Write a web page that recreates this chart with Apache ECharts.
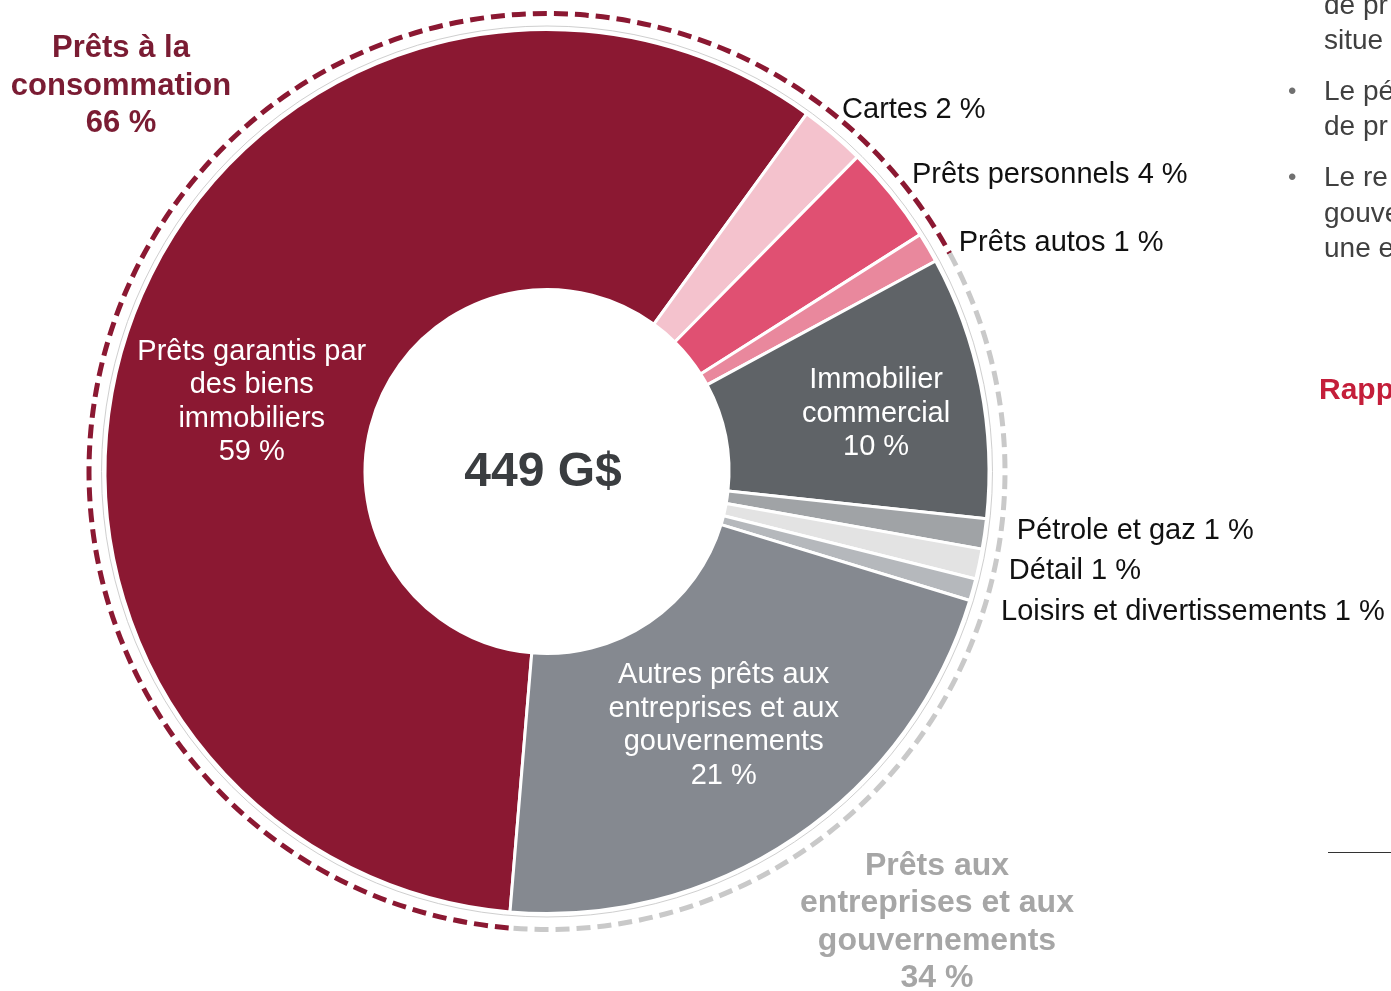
<!DOCTYPE html>
<html>
<head>
<meta charset="utf-8">
<script src="https://cdn.jsdelivr.net/npm/echarts@6/dist/echarts.min.js"></script>
<style>
    html, body { margin: 0; padding: 0; background: #fff; }
    #chart { width: 1391px; height: 991px; }
</style>
</head>
<body>
<div id="chart"></div>
<script>
var totalLabel = "449 G$";
var names = [
    "Prêts garantis par\ndes biens\nimmobiliers", "Cartes", "Prêts personnels", "Prêts autos",
    "Immobilier\ncommercial", "Pétrole et gaz", "Détail", "Loisirs et divertissements",
    "Autres prêts aux\nentreprises et aux\ngouvernements"
];
var shares = [58.6, 2.4, 3.6, 1.1, 9.6, 1.1, 1.1, 0.8, 21.6];
var shownPct = [59, 2, 4, 1, 10, 1, 1, 1, 21];
var groupNames = ["Prêts à la\nconsommation", "Prêts aux\nentreprises et aux\ngouvernements"];
var groupCount = [4, 5];
var sideText = ["de pr", "situe", "Le pé", "de pr", "Le re", "gouve", "une e"];
var sideTitle = "Rapp";

var colors = ["#8B1832", "#F4C2CD", "#E05072", "#E9889D", "#5F6367", "#A0A3A6", "#E3E3E3", "#B5B8BC", "#858990"];
var insideIdx = {0: [0, 40], 4: [20, 3], 8: [0, -7]};
// small hand nudges for the outside labels, as placed on the original slide
var labelNudge = {1: [-14, -8], 2: [-3, -5], 3: [6, 6], 5: [4, -6], 6: [0, -8], 7: [-2, -9]};

var CX = 547, CY = 471.5, R0 = 182, R1 = 442, START = 265.2;
var FONT = "Liberation Sans";

var data = names.map(function (n, i) {
    var item = {name: n, value: shares[i], pct: shownPct[i], itemStyle: {color: colors[i]}};
    if (insideIdx[i]) {
        item.label = {position: "inside", color: "#fff", lineHeight: 33.5, offset: insideIdx[i]};
    }
    return item;
});

var total = shares.reduce(function (a, b) { return a + b; }, 0);
var consShare = 0, consPct = 0, bizPct = 0;
shares.forEach(function (v, i) {
    if (i < groupCount[0]) { consShare += v; consPct += shownPct[i]; } else { bizPct += shownPct[i]; }
});
var a0 = -START * Math.PI / 180;
var aSplit = a0 + consShare / total * Math.PI * 2;

var graphics = [
    {type: "circle", silent: true, shape: {cx: CX, cy: CY, r: R1 + 3.5}, style: {fill: null, stroke: "#cfcfcf", lineWidth: 1}},
    {type: "arc", silent: true, shape: {cx: CX, cy: CY, r: 458, startAngle: a0, endAngle: aSplit, clockwise: true},
        style: {fill: null, stroke: "#8B1832", lineWidth: 5, lineDash: [14, 7]}},
    {type: "arc", silent: true, shape: {cx: CX, cy: CY, r: 458, startAngle: aSplit, endAngle: a0 + Math.PI * 2, clockwise: true},
        style: {fill: null, stroke: "#C9C9C9", lineWidth: 5, lineDash: [14, 7]}},
    {type: "text", silent: true, x: CX - 4, y: CY + 1, style: {text: totalLabel, fill: "#3A3D40",
        font: "bold 48px " + FONT, align: "center", verticalAlign: "middle"}},
    {type: "text", silent: true, x: 121, y: 86, style: {text: groupNames[0] + "\n" + consPct + " %", fill: "#7A1C33",
        font: "bold 31px " + FONT, lineHeight: 37.5, align: "center", verticalAlign: "middle"}},
    {type: "text", silent: true, x: 937, y: 922, style: {text: groupNames[1] + "\n" + bizPct + " %", fill: "#A6A6A6",
        font: "bold 32px " + FONT, lineHeight: 37.5, align: "center", verticalAlign: "middle"}}
];

// cut-off slide text on the right edge
var sideY = [6, 41, 92, 127, 178, 214, 249];
sideText.forEach(function (t, i) {
    graphics.push({type: "text", silent: true, x: 1324, y: sideY[i], style: {text: t, fill: "#404040",
        font: "28px " + FONT, verticalAlign: "middle"}});
});
[92, 178].forEach(function (y) {
    graphics.push({type: "text", silent: true, x: 1288, y: y, style: {text: "•", fill: "#707070",
        font: "24px " + FONT, verticalAlign: "middle"}});
});
graphics.push({type: "text", silent: true, x: 1319, y: 391, style: {text: sideTitle, fill: "#C41E3A",
    font: "bold 30px " + FONT, verticalAlign: "middle"}});
graphics.push({type: "line", silent: true, shape: {x1: 1328, y1: 852.5, x2: 1391, y2: 852.5}, style: {stroke: "#333", lineWidth: 1}});

var option = {
    backgroundColor: "#fff",
    animation: false,
    series: [{
        type: "pie",
        silent: true,
        center: [CX, CY],
        radius: [R0, R1],
        startAngle: START,
        clockwise: true,
        avoidLabelOverlap: true,
        itemStyle: {borderColor: "#fff", borderWidth: 3},
        label: {
            show: true,
            position: "outside",
            overflow: "none",
            edgeDistance: 0,
            fontFamily: FONT,
            fontSize: 29,
            lineHeight: 40,
            color: "#111",
            formatter: function (p) {
                var sep = insideIdx[p.dataIndex] ? "\n" : " ";
                return p.name + sep + p.data.pct + " %";
            }
        },
        labelLine: {show: false, length: 22, length2: 4},
        labelLayout: function (params) {
            var n = labelNudge[params.dataIndex];
            return n ? {dx: n[0], dy: n[1]} : {};
        },
        data: data
    }],
    graphic: graphics
};

var chart = echarts.init(document.getElementById("chart"));
chart.setOption(option);
</script>
</body>
</html>
